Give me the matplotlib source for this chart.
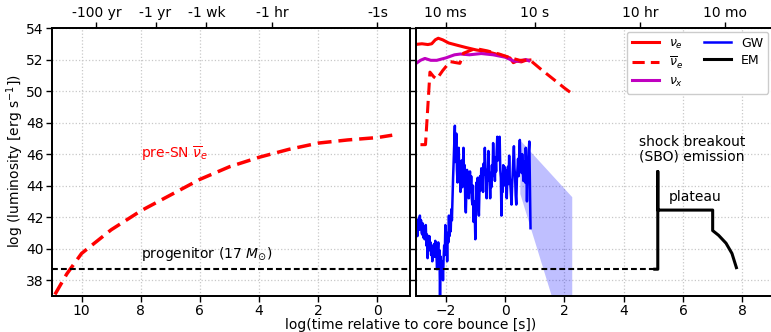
import matplotlib
matplotlib.use("Agg")
import matplotlib.pyplot as plt
import numpy as np

# ---------------- data ----------------
# pre-supernova anti-electron-neutrino luminosity (left panel, time before bounce)
presn_t = [10.9, 10.5, 10.0, 9.0, 8.0, 7.0, 6.0, 5.0, 4.0, 3.0, 2.0, 1.0, 0.0, -0.5]
presn_L = [37.1, 38.4, 39.7, 41.2, 42.4, 43.4, 44.4, 45.2, 45.8, 46.3, 46.7, 46.9, 47.05, 47.2]

progenitor_L = 38.7

# neutrino luminosities after bounce (right panel)
nue_t = [-3.0, -2.8, -2.6, -2.47, -2.35, -2.25, -2.1, -1.9, -1.6, -1.29, -0.95, -0.6, -0.3, 0.0, 0.17, 0.28, 0.4, 0.55, 0.7, 0.84]
nue_L = [52.96, 53.0, 52.95, 53.0, 53.25, 53.35, 53.25, 53.05, 52.9, 52.75, 52.6, 52.5, 52.35, 52.2, 52.1, 51.8, 51.9, 51.85, 51.95, 51.97]

nux_t = [-3.0, -2.85, -2.7, -2.5, -2.3, -2.0, -1.7, -1.5, -1.2, -0.8, -0.4, 0.0, 0.3, 0.5, 0.7, 0.8]
nux_L = [51.75, 51.95, 52.07, 51.95, 51.95, 52.1, 52.3, 52.35, 52.3, 52.38, 52.3, 52.15, 51.9, 51.9, 52.0, 51.92]

nuebar_t = [-2.85, -2.68, -2.53, -2.4, -2.3, -2.1, -1.85, -1.65, -1.52, -1.4, -1.2, -1.0, -0.6, -0.2, 0.2, 0.5, 0.84, 1.2, 1.6, 2.0, 2.25]
nuebar_L = [46.6, 46.6, 51.2, 50.9, 50.76, 51.3, 51.87, 51.8, 51.76, 52.4, 52.55, 52.7, 52.55, 52.35, 52.1, 51.95, 51.97, 51.4, 50.8, 50.2, 49.85]

# gravitational-wave luminosity (noisy)
gw_t = [-2.97, -2.95, -2.93, -2.91, -2.89, -2.87, -2.85, -2.83, -2.81, -2.79,
        -2.77, -2.75, -2.73, -2.71, -2.69, -2.67, -2.65, -2.63, -2.61, -2.59,
        -2.57, -2.55, -2.53, -2.51, -2.49, -2.47, -2.45, -2.43, -2.41, -2.39,
        -2.37, -2.35, -2.33, -2.31, -2.29, -2.27, -2.25, -2.23, -2.21, -2.19,
        -2.17, -2.15, -2.13, -2.11, -2.09, -2.07, -2.05, -2.03, -2.01, -1.99,
        -1.97, -1.95, -1.93, -1.91, -1.89, -1.87, -1.85, -1.83, -1.81, -1.79,
        -1.77, -1.75, -1.73, -1.71, -1.69, -1.68, -1.66, -1.64, -1.62, -1.60,
        -1.58, -1.56, -1.54, -1.52, -1.50, -1.48, -1.46, -1.44, -1.42, -1.40,
        -1.38, -1.36, -1.34, -1.32, -1.30, -1.28, -1.26, -1.24, -1.22, -1.20,
        -1.18, -1.16, -1.14, -1.12, -1.10, -1.08, -1.06, -1.04, -1.02, -1.00,
        -0.98, -0.96, -0.94, -0.92, -0.90, -0.88, -0.86, -0.84, -0.82, -0.80,
        -0.78, -0.76, -0.74, -0.72, -0.70, -0.68, -0.66, -0.64, -0.62, -0.60,
        -0.58, -0.56, -0.54, -0.52, -0.50, -0.48, -0.46, -0.44, -0.42, -0.40,
        -0.38, -0.36, -0.34, -0.32, -0.30, -0.28, -0.26, -0.24, -0.22, -0.20,
        -0.18, -0.16, -0.14, -0.12, -0.10, -0.08, -0.06, -0.04, -0.02, 0.00,
        0.02, 0.04, 0.06, 0.08, 0.10, 0.12, 0.14, 0.16, 0.18, 0.20,
        0.22, 0.24, 0.26, 0.28, 0.30, 0.32, 0.34, 0.36, 0.38, 0.40,
        0.42, 0.44, 0.46, 0.48, 0.50, 0.52, 0.54, 0.56, 0.58, 0.60,
        0.62, 0.64, 0.66, 0.68, 0.70, 0.72, 0.74, 0.76, 0.78, 0.80,
        0.82, 0.84, 0.86]
gw_L = [41.3, 40.8, 41.5, 41.9, 41.2, 42.1, 41.4, 41.8, 41.0, 40.9,
        41.6, 40.7, 41.3, 40.6, 41.1, 41.5, 40.2, 40.9, 39.4, 40.6,
        40.0, 40.8, 39.9, 40.4, 39.6, 40.2, 39.2, 40.1, 39.5, 40.3,
        39.5, 40.5, 39.9, 39.6, 38.7, 39.8, 40.4, 39.3, 39.9, 37.0,
        39.5, 38.9, 38.6, 39.2, 38.0, 39.4, 40.2, 39.6, 41.5, 40.3,
        40.8, 39.2, 41.0, 40.4, 42.1, 40.8, 41.6, 41.1, 42.5, 41.8,
        43.2, 44.5, 45.6, 46.8, 47.8, 45.5, 46.3, 47.3, 45.0, 44.2,
        45.8, 46.4, 44.6, 45.4, 43.6, 44.9, 45.6, 43.9, 45.0, 46.4,
        44.6, 45.3, 43.0, 42.3, 43.8, 45.0, 44.0, 44.8, 43.2, 44.4,
        44.9, 43.6, 44.6, 43.2, 42.8, 44.0, 41.7, 43.0, 42.2, 40.6,
        42.4, 44.2, 43.1, 44.5, 43.0, 42.1, 43.8, 44.6, 43.7, 45.1,
        44.3, 45.0, 43.6, 45.4, 44.7, 46.4, 45.0, 44.6, 43.2, 45.0,
        44.3, 46.2, 45.0, 44.5, 43.2, 44.8, 43.9, 45.3, 44.6, 46.7,
        45.5, 45.2, 44.3, 45.8, 44.9, 46.2, 47.1, 45.6, 46.0, 46.9,
        47.1, 45.0, 44.5, 42.1, 44.0, 43.6, 45.3, 44.0, 45.2, 44.3,
        45.0, 43.8, 43.2, 44.6, 45.2, 44.1, 45.9, 44.5, 44.1, 43.5,
        42.8, 44.0, 44.8, 45.6, 46.5, 45.1, 44.6, 43.4, 42.8, 44.4,
        45.0, 45.7, 44.6, 46.1, 46.9, 45.3, 45.9, 44.8, 46.0, 45.1,
        44.3, 45.0, 45.5, 44.2, 46.4, 45.0, 43.0, 44.6, 45.2, 46.2,
        46.8, 44.0, 41.3]

# GW extrapolation band
band_t = [0.5, 2.25]
band_hi = [46.9, 43.3]
band_lo = [43.5, 32.8]

# electromagnetic light curve
em_t = [5.05, 5.15, 5.15, 5.15, 7.0, 7.0, 7.2, 7.45, 7.65, 7.8]
em_L = [38.7, 38.7, 44.9, 42.45, 42.45, 41.15, 40.85, 40.35, 39.7, 38.8]

# top tick labels
left_top_pos = [9.5, 7.5, 5.78, 3.556, 0.0]
left_top_lab = ['-100 yr', '-1 yr', '-1 wk', '-1 hr', '-1s']
right_top_pos = [-2.0, 1.0, 4.556, 7.41]
right_top_lab = ['10 ms', '10 s', '10 hr', '10 mo']

# ---------------- figure ----------------
W, H = 771, 332
fig = plt.figure(figsize=(W / 100, H / 100), dpi=100)
plt.rcParams['font.family'] = ['DejaVu Sans']
fs = 10

bot = 1 - 296 / H
top = 1 - 28 / H
axL = fig.add_axes([52 / W, bot, (410 - 52) / W, top - bot])
axR = fig.add_axes([416 / W, bot, (772 - 416) / W, top - bot])

for ax in (axL, axR):
    ax.set_ylim(37, 54)
    ax.set_yticks(np.arange(38, 55, 2))
    ax.grid(True, color='#c8c8c8', linestyle=':', linewidth=0.9)
    ax.set_axisbelow(True)
    ax.tick_params(labelsize=fs, direction='out', length=4, width=1, pad=2)
    for s in ax.spines.values():
        s.set_linewidth(1.3)

dash_prog = (0, (2.8, 1.5))

# left panel
axL.set_xlim(11, -1.1)
axL.set_xticks([10, 8, 6, 4, 2, 0])
axL.plot(presn_t, presn_L, color='red', ls=(0, (4, 2)), lw=2.5)
axL.axhline(progenitor_L, color='black', ls=dash_prog, lw=1.5)
axL.text(8.0, 46.0, r'pre-SN $\overline{\nu}_e$', color='red', fontsize=fs, va='center')
axL.text(8.0, 39.65, r'progenitor (17 $M_{\odot}$)', color='black', fontsize=fs, va='center')

tL = axL.twiny()
tL.set_xlim(axL.get_xlim())
tL.set_xticks(left_top_pos)
tL.set_xticklabels(left_top_lab)
tL.tick_params(labelsize=fs, direction='out', length=4, width=1, pad=2)
for s in tL.spines.values():
    s.set_linewidth(1.3)

# right panel
axR.set_xlim(-3, 9)
axR.set_xticks([-2, 0, 2, 4, 6, 8])
axR.tick_params(labelleft=False)
axR.fill_between(band_t, band_lo, band_hi, color='blue', alpha=0.25, lw=0)
lgw, = axR.plot(gw_t, gw_L, color='blue', lw=1.8)
axR.plot([-3, 5.1], [progenitor_L, progenitor_L], color='black', ls=dash_prog, lw=1.5)
lnue, = axR.plot(nue_t, nue_L, color='red', lw=2.2)
lnux, = axR.plot(nux_t, nux_L, color='#c000c0', lw=2.2)
lnueb, = axR.plot(nuebar_t, nuebar_L, color='red', ls=(0, (4, 2)), lw=2.2)
lem, = axR.plot(em_t, em_L, color='black', lw=2.2)
axR.text(6.3, 46.3, 'shock breakout\n(SBO) emission', fontsize=fs, ha='center', va='center', linespacing=1.1)
axR.text(6.4, 43.3, 'plateau', fontsize=fs, ha='center', va='center')
axR.legend([lnue, lnueb, lnux, lgw, lem], [r'$\nu_e$', r'$\overline{\nu}_e$', r'$\nu_x$', 'GW', 'EM'],
           ncol=2, loc='upper right', fontsize=fs - 1, handlelength=2.2, columnspacing=1.6,
           labelspacing=0.3, borderaxespad=0.3, framealpha=1)

tR = axR.twiny()
tR.set_xlim(axR.get_xlim())
tR.set_xticks(right_top_pos)
tR.set_xticklabels(right_top_lab)
tR.tick_params(labelsize=fs, direction='out', length=4, width=1, pad=2)
for s in tR.spines.values():
    s.set_linewidth(1.3)

fig.text(411 / W, 1 - 325 / H, 'log(time relative to core bounce [s])', ha='center', va='center', fontsize=fs)
fig.text(15 / W, 1 - 161 / H, r'log (luminosity [erg s$^{-1}$])', ha='center', va='center',
         rotation=90, fontsize=fs)

fig.savefig('out.png', dpi=100)
